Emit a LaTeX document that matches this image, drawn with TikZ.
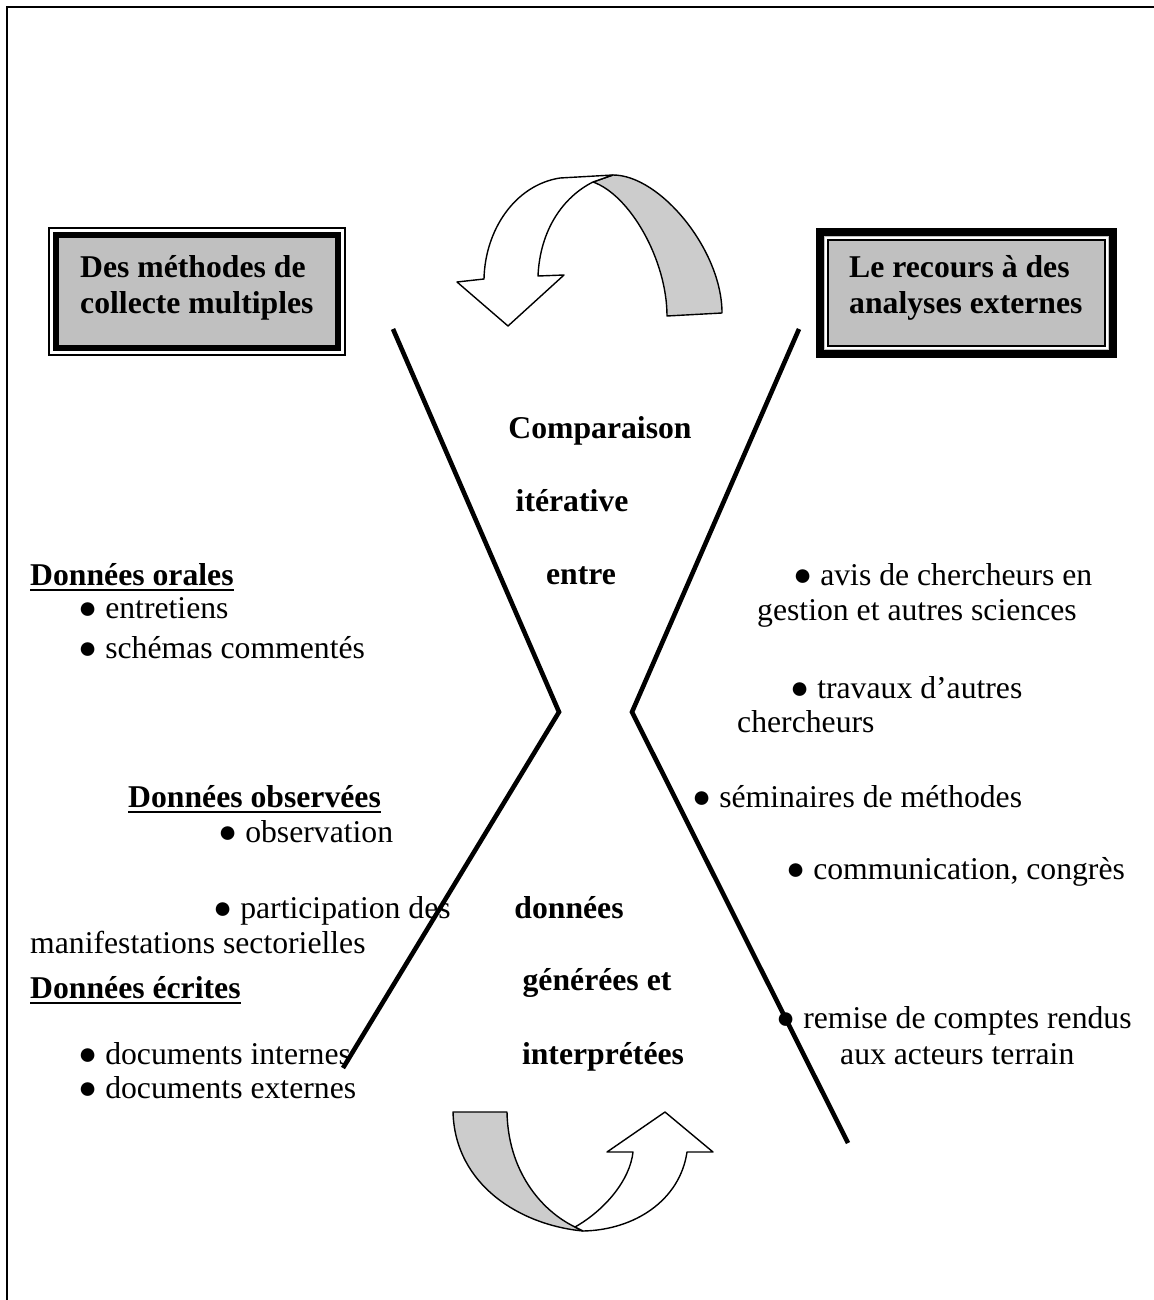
\documentclass[tikz,border=0pt]{standalone}
\usepackage{fontspec}
\setmainfont{Liberation Serif}
\definecolor{boxgray}{RGB}{192,192,192}
\definecolor{arrgray}{RGB}{204,204,204}
\begin{document}
\begin{tikzpicture}[x=1pt,y=-1pt,
  txt/.style={inner sep=0pt, anchor=base west, font=\fontsize{31.7}{38}\selectfont},
  btxt/.style={inner sep=0pt, anchor=base west, font=\fontsize{31.7}{38}\selectfont\bfseries},
  ctxt/.style={inner sep=0pt, anchor=base, font=\fontsize{31.7}{38}\selectfont\bfseries},
  funnel/.style={line width=4.6pt, line join=miter},
  uline/.style={line width=2pt},
  ribbon/.style={draw=black, line width=1.4pt, line join=round}]
\useasboundingbox (0,0) rectangle (1153,1300);
\fill[white] (0,0) rectangle (1153,1300);
% frame (only top and left edges visible)
\draw[line width=2pt] (7,1310) -- (7,7) -- (1160,7);

% left box: thin outer, thick inner
\draw[line width=1.2pt] (49,228) rectangle (345,355);
\draw[line width=6.5pt, fill=boxgray] (56,235) rectangle (338,348);
\node[btxt] (bl1) at (80,277) {Des méthodes de};
\node[btxt] (bl2) at (80,313) {collecte multiples};

% right box: thick outer, thin inner
\draw[line width=8pt, fill=boxgray] (820,232) rectangle (1113,354);
\draw[line width=1.2pt] (828,240) rectangle (1105,346);
\draw[white, line width=1.5pt] (825.8,237.8) rectangle (1107.2,348.2);
\node[btxt] (br1) at (849,277) {Le recours à des};
\node[btxt] (br2) at (849,313) {analyses externes};

% funnel lines
\coordinate (lt) at (393,329);
\coordinate (lm) at (559,712);
\coordinate (lb) at (343,1068);
\coordinate (rt) at (799,329);
\coordinate (rm) at (632,712);
\coordinate (rb) at (848,1143);
\draw[funnel] (lt) -- (lm) -- (lb);
\draw[funnel] (rt) -- (rm) -- (rb);

% top curved arrow
\draw[ribbon, fill=arrgray] (613,175) .. controls (660,175) and (722,250) .. (722,313)
  -- (667,316) .. controls (667,260) and (630,195) .. (593,182) -- cycle;
\draw[ribbon, fill=white] (613,175) -- (560,178) .. controls (515,185) and (485,230) .. (484,279)
  -- (457,282) -- (508,326) -- (564,275) -- (538,276)
  .. controls (540,230) and (563,197) .. (593,182) -- cycle;

% bottom curved arrow
\draw[ribbon, fill=arrgray] (453,1112) -- (507,1112) .. controls (508,1170) and (540,1210) .. (575,1227)
  -- (583,1231) .. controls (520,1225) and (455,1185) .. (453,1112) -- cycle;
\draw[ribbon, fill=white] (575,1227) .. controls (605,1210) and (630,1180) .. (633,1152)
  -- (607,1152) -- (665,1112) -- (713,1152) -- (687,1152)
  .. controls (680,1200) and (635,1230) .. (583,1231) -- cycle;

% centre texts
\node[ctxt] (c1) at (600,438) {Comparaison};
\node[ctxt] (c2) at (572,511) {itérative};
\node[ctxt] (c3) at (581,584) {entre};
\node[ctxt] (c4) at (569,918) {données};
\node[ctxt] (c5) at (597,990) {générées et};
\node[ctxt] (c6) at (603,1064) {interprétées};

% left texts
\node[btxt] (lo) at (30,585) {Données orales};
\draw[uline] ([yshift=-5pt]lo.base west) -- ([yshift=-5pt]lo.base east);
\node[txt] (lo1) at (78,618) {● entretiens};
\node[txt] (lo2) at (78,658) {● schémas commentés};
\node[btxt] (lv) at (128,807) {Données observées};
\draw[uline] ([yshift=-5pt]lv.base west) -- ([yshift=-5pt]lv.base east);
\node[txt] (lv1) at (218,842) {● observation};
\node[txt] (lv2) at (213,918) {● participation des};
\node[txt] (lv3) at (30,953) {manifestations sectorielles};
\node[btxt] (le) at (30,998) {Données écrites};
\draw[uline] ([yshift=-5pt]le.base west) -- ([yshift=-5pt]le.base east);
\node[txt] (le1) at (78,1064) {● documents internes};
\node[txt] (le2) at (78,1098) {● documents externes};

% right texts
\node[txt] (r1) at (793,585) {● avis de chercheurs en};
\node[txt] (r1b) at (757,620) {gestion et autres sciences};
\node[txt] (r2) at (790,698) {● travaux d’autres};
\node[txt] (r2b) at (737,732) {chercheurs};
\node[txt] (r3) at (692,807) {● séminaires de méthodes};
\node[txt] (r4) at (786,879) {● communication, congrès};
\node[txt] (r5) at (776,1028) {● remise de comptes rendus};
\node[txt] (r5b) at (840,1064) {aux acteurs terrain};
\end{tikzpicture}
\end{document}
